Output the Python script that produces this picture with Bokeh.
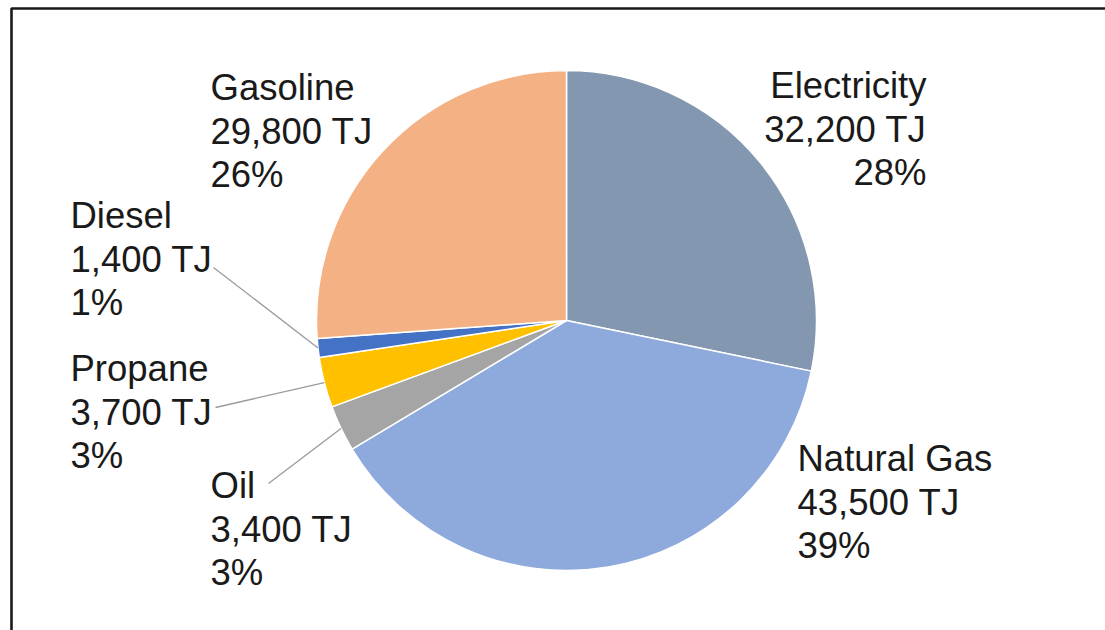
import math
from bokeh.plotting import figure
from bokeh.models import ColumnDataSource, Range1d
from bokeh.core.properties import value
from bokeh.embed import file_html
from bokeh.resources import INLINE

# Energy use by source (terajoules), clockwise from 12 o'clock
categories = ["Electricity", "Natural Gas", "Oil", "Propane", "Diesel", "Gasoline"]
energy_tj = [32200, 43500, 3400, 3700, 1400, 29800]
share_pct = [28, 39, 3, 3, 1, 26]
colors = ["#8497B0", "#8EA9DB", "#A5A5A5", "#FFC000", "#4472C4", "#F4B183"]

W, H = 1105, 630
CX, CY, R = 566, H - 320, 250

# label placement: (x, top line centre in screen px, alignment, leader start or None)
label_layout = {
    "Electricity": (926, 85, "right", None),
    "Natural Gas": (797, 458, "left", None),
    "Oil": (210, 485, "left", (268, 483)),
    "Propane": (70, 368, "left", (215, 407)),
    "Diesel": (70, 215, "left", (213, 267)),
    "Gasoline": (210, 87, "left", None),
}
LINE_GAP = 43.5

total = sum(energy_tj)
starts, ends, mids = [], [], []
acc = 0.0
for v in energy_tj:
    f0 = acc / total
    acc += v
    f1 = acc / total
    starts.append(math.pi / 2 - 2 * math.pi * f1)
    ends.append(math.pi / 2 - 2 * math.pi * f0)
    mids.append((f0 + f1) / 2)

p = figure(width=W, height=H, output_backend="svg", toolbar_location=None,
           x_range=Range1d(0, W), y_range=Range1d(0, H), min_border=0)
p.axis.visible = False
p.grid.visible = False
p.outline_line_color = None
p.background_fill_color = "white"
p.border_fill_color = "white"

# frame around the chart area
p.quad(left=[11], right=[W + 20], top=[H - 8], bottom=[-20],
       fill_color=None, line_color="#1a1a1a", line_width=2.6)

pie = ColumnDataSource(dict(cat=categories, start=starts, end=ends, color=colors))
p.wedge(x=CX, y=CY, radius=R, start_angle="start", end_angle="end",
        direction="anticlock", fill_color="color", line_color="white",
        line_width=1.5, source=pie)

# leader lines for the thin slices
lx0, ly0, lx1, ly1 = [], [], [], []
for cat, fm in zip(categories, mids):
    lead = label_layout[cat][3]
    if lead is None:
        continue
    lx0.append(lead[0]); ly0.append(H - lead[1])
    lx1.append(CX + R * math.sin(2 * math.pi * fm))
    ly1.append(CY + R * math.cos(2 * math.pi * fm))
p.segment(x0=lx0, y0=ly0, x1=lx1, y1=ly1, line_color="#9a9a9a", line_width=1.3)

# three-line data labels
for align in ("left", "right"):
    xs, ys, txt = [], [], []
    for cat, v, pct in zip(categories, energy_tj, share_pct):
        x, ytop, al, _ = label_layout[cat]
        if al != align:
            continue
        for i, line in enumerate([cat, f"{v:,} TJ", f"{pct}%"]):
            xs.append(x)
            ys.append(H - (ytop + i * LINE_GAP))
            txt.append(line)
    p.text(x=xs, y=ys, text=txt, text_align=align, text_baseline="middle",
           text_font=value("Liberation Sans"), text_font_size="36.5px",
           text_color="#1a1a1a")

open("out.html", "w").write(file_html(p, INLINE))
